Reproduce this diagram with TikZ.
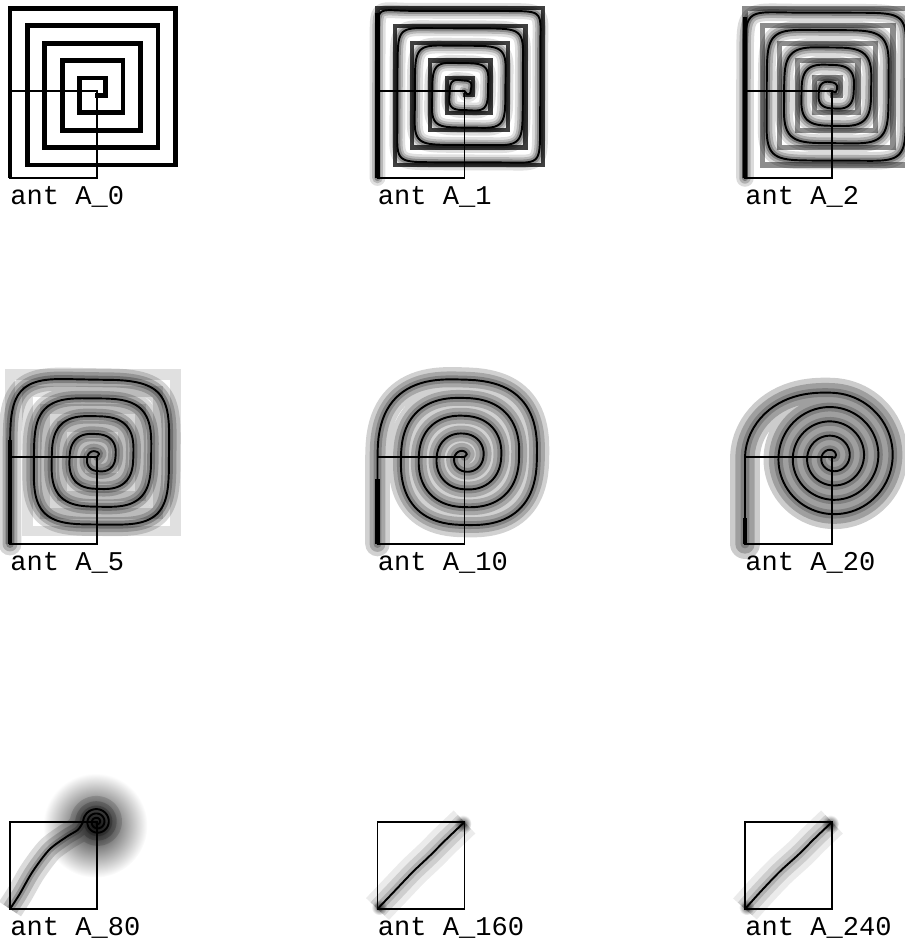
\documentclass[tikz,border=0pt]{standalone}
\usepackage{fontspec}
\newfontfamily\antfont{Liberation Mono}

\tikzset{
  declare function={
    antstep(\s)=min(\s,1)*min(\s,1)*(3-2*min(\s,1));
    antrad(\w,\ra,\rb,\rc,\rd)=\ra-\rb*\w/360+\rc*(1-antstep(\w/\rd));
    antsx(\w,\ex)=sign(cos(\w))*pow(abs(cos(\w))+0.0001,\ex);
    antsy(\w,\ex)=sign(sin(\w))*pow(abs(sin(\w))+0.0001,\ex);
  },
  refbox/.style={draw=black, line width=0.6pt},
  antpath/.style={draw=black, line width=1.1pt, line join=round, line cap=round},
  squarepath/.style={draw=black, line width=2.7pt},
  ghost/.style 2 args={draw=black!#1, line width=#2},
  tailbar/.style={draw=black, line width=2.3pt},
  haze/.style 2 args={preaction={draw=black, draw opacity=#1, line width=#2, line join=round, line cap=round}},
  wash/.style 2 args={preaction={draw=black, draw opacity=#1, line width=#2, line join=round, line cap=butt}},
  antlabel/.style={anchor=base west, inner sep=0pt, font=\antfont\fontsize{15.4}{18}\selectfont},
}

% square spiral of the first ant, from (0,0) in to (1,1)
\newcommand{\squarespiral}{(0,0) -- (0,1.95) -- (1.9,1.95) -- (1.9,0.15) -- (0.2,0.15)
  -- (0.2,1.75) -- (1.7,1.75) -- (1.7,0.35) -- (0.4,0.35) -- (0.4,1.55) -- (1.5,1.55)
  -- (1.5,0.55) -- (0.6,0.55) -- (0.6,1.35) -- (1.3,1.35) -- (1.3,0.75) -- (0.8,0.75)
  -- (0.8,1.15) -- (1.1,1.15) -- (1.1,0.95) -- (0.98,0.95)}

% rounded spiral round (1,1): start radius, shrink per turn, extra start radius,
% its span, exponent outside, exponent inside, last angle
\newcommand{\antspiral}[7]{-- plot[domain=0:#7, variable=\ang]
  ({1-antrad(\ang,#1,#2,#3,#4)*antsx(\ang,#5+(#6-#5)*\ang/#7)},
   {1+antrad(\ang,#1,#2,#3,#4)*antsy(\ang,#5+(#6-#5)*\ang/#7)})}

\begin{document}
\begin{tikzpicture}[x=1.74cm, y=1.74cm]
\useasboundingbox (-0.115,-8.793) rectangle (10.276,2.046);

% ant A_0
\begin{scope}
  \draw[squarepath] \squarespiral;
  \draw[refbox] (0,0) rectangle (1,1);
  \node[antlabel] (lab0) at (0,-0.31) {ant A\_0};
\end{scope}

% ant A_1
\begin{scope}[shift={(4.224,0)}, samples=540]
  \draw[ghost={75}{2.4pt}] \squarespiral;
  \draw[tailbar] (0,0) -- (0,1.9);
  \draw[haze={0.12}{9pt}, haze={0.18}{6pt}, haze={0.25}{3.5pt}, antpath]
    (0,0) \antspiral{0.97}{0.2}{0.03}{90}{0.1}{0.6}{1674} -- (1,1);
  \draw[refbox] (0,0) rectangle (1,1);
  \node[antlabel] (lab1) at (0,-0.31) {ant A\_1};
\end{scope}

% ant A_2
\begin{scope}[shift={(8.448,0)}, samples=540]
  \draw[ghost={45}{3pt}] \squarespiral;
  \draw[tailbar] (0,0) -- (0,1.85);
  \draw[haze={0.14}{10pt}, haze={0.2}{6.5pt}, haze={0.28}{3.5pt}, antpath]
    (0,0) \antspiral{0.95}{0.2}{0.05}{90}{0.2}{0.8}{1638} -- (1,1);
  \draw[refbox] (0,0) rectangle (1,1);
  \node[antlabel] (lab2) at (0,-0.31) {ant A\_2};
\end{scope}

% ant A_5
\begin{scope}[shift={(0,-4.207)}, samples=420]
  \draw[ghost={12}{6pt}] \squarespiral;
  \draw[tailbar] (0,0) -- (0,1.2);
  \draw[haze={0.16}{13pt}, haze={0.2}{8.5pt}, haze={0.25}{4.5pt}, antpath]
    (0,0) \antspiral{0.93}{0.205}{0.07}{120}{0.45}{0.9}{1565} -- (1,1);
  \draw[refbox] (0,0) rectangle (1,1);
  \node[antlabel] (lab5) at (0,-0.31) {ant A\_5};
\end{scope}

% ant A_10
\begin{scope}[shift={(4.224,-4.207)}, samples=400]
  \draw[tailbar] (0,0) -- (0,0.75);
  \draw[haze={0.18}{14pt}, haze={0.2}{9pt}, haze={0.22}{4.5pt}, antpath]
    (0,0) \antspiral{0.935}{0.205}{0.065}{110}{0.75}{1}{1572} -- (1,1);
  \draw[refbox] (0,0) rectangle (1,1);
  \node[antlabel] (lab10) at (0,-0.31) {ant A\_10};
\end{scope}

% ant A_20
\begin{scope}[shift={(8.448,-4.207)}, samples=400]
  \draw[tailbar] (0,0) -- (0,0.3);
  \draw[haze={0.2}{17pt}, haze={0.22}{11pt}, haze={0.2}{5pt}, antpath]
    (0,0) \antspiral{0.78}{0.165}{0.22}{90}{1}{1}{1636} -- (1,1);
  \draw[refbox] (0,0) rectangle (1,1);
  \node[antlabel] (lab20) at (0,-0.31) {ant A\_20};
\end{scope}

% ant A_80
\begin{scope}[shift={(0,-8.402)}, samples=300]
  \shade[inner color=black!85, outer color=white] (0.98,0.96) circle (0.6);
  \draw[wash={0.14}{15pt}, wash={0.18}{9pt}, wash={0.2}{4pt}, antpath]
    plot[smooth] coordinates {(0,0) (0.11,0.17) (0.26,0.43) (0.45,0.68) (0.65,0.83) (0.78,0.91) (0.84,1)}
    \antspiral{0.16}{0.05}{0}{90}{1}{1}{1008} -- (1,1);
  \draw[refbox] (0,0) rectangle (1,1);
  \node[antlabel] (lab80) at (0,-0.31) {ant A\_80};
\end{scope}

% ant A_160
\begin{scope}[shift={(4.224,-8.402)}]
  \shade[inner color=black!75, outer color=white] (0.98,0.98) circle (0.1);
  \shade[inner color=black!70, outer color=white] (0.02,0.02) circle (0.09);
  \draw[wash={0.08}{18pt}, wash={0.12}{11pt}, wash={0.15}{5pt}, antpath]
    plot[smooth] coordinates {(0,0) (0.2,0.21) (0.41,0.43) (0.6,0.61) (0.79,0.8) (1,1)};
  \draw[refbox] (0,0) rectangle (1,1);
  \node[antlabel] (lab160) at (0,-0.31) {ant A\_160};
\end{scope}

% ant A_240
\begin{scope}[shift={(8.448,-8.402)}]
  \shade[inner color=black!75, outer color=white] (0.98,0.98) circle (0.1);
  \shade[inner color=black!70, outer color=white] (0.02,0.02) circle (0.09);
  \draw[wash={0.08}{18pt}, wash={0.12}{11pt}, wash={0.15}{5pt}, antpath]
    plot[smooth] coordinates {(0,0) (0.18,0.2) (0.4,0.43) (0.62,0.63) (0.8,0.81) (1,1)};
  \draw[refbox] (0,0) rectangle (1,1);
  \node[antlabel] (lab240) at (0,-0.31) {ant A\_240};
\end{scope}

\end{tikzpicture}
\end{document}
